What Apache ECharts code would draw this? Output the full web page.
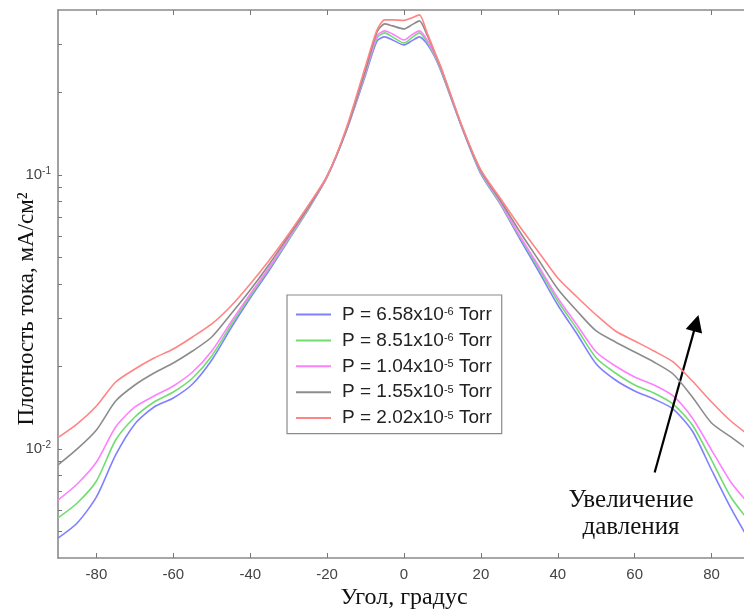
<!DOCTYPE html>
<html>
<head>
<meta charset="utf-8">
<script src="https://cdn.jsdelivr.net/npm/echarts@6/dist/echarts.min.js"></script>
<style>
  html, body { margin: 0; padding: 0; background: #ffffff; }
  #chart { width: 744px; height: 609px; }
</style>
</head>
<body>
<div id="chart"></div>
<script>
// Angular distribution of the ion current density for five chamber pressures
const angles = [-90, -85, -80, -75, -70, -65, -60, -55, -50, -45, -40, -35, -30, -25, -20, -15, -10,
  -7, -5, -3, 0, 2, 4, 6, 8,
  10, 15, 20, 25, 30, 35, 40, 45, 50, 55, 60, 65, 70, 75, 80, 85, 90];

// current density, mA/cm^2
const p658e6 = [0.00473, 0.00537, 0.00668, 0.00951, 0.01234, 0.01423, 0.01535, 0.01726, 0.02112, 0.02764,
  0.03557, 0.0450, 0.0579, 0.07451, 0.09833, 0.1448, 0.2318,
  0.3085, 0.3191, 0.3111, 0.2983, 0.3085, 0.3191, 0.3008, 0.2697,
  0.2318, 0.1497, 0.1008, 0.0784, 0.05889, 0.04462, 0.03353, 0.02628, 0.02042, 0.01785, 0.01628,
  0.01522, 0.01399, 0.01163, 0.00838, 0.00609, 0.00458];
const p851e6 = [0.0056, 0.00635, 0.00764, 0.01078, 0.01308, 0.01484, 0.01614, 0.01816, 0.02185, 0.02835,
  0.03617, 0.04576, 0.0584, 0.07451, 0.09833, 0.146, 0.2357,
  0.3164, 0.330, 0.3191, 0.3034, 0.3164, 0.330, 0.3059, 0.272,
  0.2338, 0.151, 0.1017, 0.079, 0.05989, 0.04576, 0.03468, 0.02741, 0.02148, 0.01893, 0.01712,
  0.01601, 0.01459, 0.01223, 0.00911, 0.00668, 0.00541];
const p104e5 = [0.00651, 0.00745, 0.00896, 0.01203, 0.01423, 0.01561, 0.01698, 0.01909, 0.02278, 0.02907,
  0.03678, 0.04614, 0.05889, 0.07514, 0.09833, 0.146, 0.2377,
  0.3218, 0.3356, 0.3272, 0.3111, 0.3245, 0.3356, 0.3111, 0.2742,
  0.2357, 0.151, 0.1026, 0.0797, 0.06039, 0.04654, 0.03557, 0.02835, 0.02259, 0.02008, 0.01831,
  0.01712, 0.01561, 0.01297, 0.00991, 0.00758, 0.00624];
const p155e5 = [0.00874, 0.0100, 0.01173, 0.01496, 0.01712, 0.01893, 0.0206, 0.02278, 0.02563, 0.03109,
  0.03804, 0.04733, 0.05989, 0.07578, 0.09917, 0.146, 0.2417,
  0.3327, 0.3559, 0.350, 0.3413, 0.3529, 0.365, 0.3245, 0.2789,
  0.2377, 0.151, 0.1034, 0.081, 0.06246, 0.04894, 0.03836, 0.03189, 0.02695, 0.02457, 0.02259,
  0.02077, 0.01878, 0.01548, 0.01244, 0.01106, 0.00983];
const p202e5 = [0.0110, 0.01234, 0.01435, 0.01755, 0.01958, 0.02148, 0.02317, 0.02563, 0.02859, 0.03326,
  0.0400, 0.04894, 0.0609, 0.07707, 0.09917, 0.1485, 0.250,
  0.3384, 0.3681, 0.3681, 0.3665, 0.3743, 0.3839, 0.330, 0.2812,
  0.2397, 0.1522, 0.1043, 0.08242, 0.06514, 0.05234, 0.04207, 0.03587, 0.03083, 0.02695, 0.02478,
  0.02278, 0.02077, 0.0177, 0.01484, 0.01265, 0.01115];

const seriesNames = ['P = 6.58x10^-6 Torr', 'P = 8.51x10^-6 Torr', 'P = 1.04x10^-5 Torr',
  'P = 1.55x10^-5 Torr', 'P = 2.02x10^-5 Torr'];
const seriesValues = [p658e6, p851e6, p104e5, p155e5, p202e5];
const lineColors = ['#8080ff', '#70dd70', '#ff80ff', '#8c8c8c', '#ff8585'];

// axis ticks
const xTicks = [-80, -60, -40, -20, 0, 20, 40, 60, 80];
const yLabelTicks = [0.01, 0.1];
const yTicks = [0.005, 0.006, 0.007, 0.008, 0.009, 0.01, 0.02, 0.03, 0.04, 0.05, 0.06, 0.07, 0.08, 0.09,
  0.1, 0.2, 0.3];

// annotation arrow (angle, current density)
const arrowFrom = [65.2, 0.0082];
const arrowTo = [76.0, 0.0288];
const arrowText = ['Увеличение', 'давления'];

const axisGrey = '#8a8a8a';
const tickFont = 'Liberation Sans, Arial, sans-serif';
const serifFont = 'Liberation Serif, Times New Roman, serif';

const chart = echarts.init(document.getElementById('chart'), null, { renderer: 'canvas' });

const series = seriesValues.map((vals, i) => {
  const s = {
    name: seriesNames[i],
    type: 'line',
    data: angles.map((a, k) => [a, vals[k]]),
    symbol: 'none',
    showSymbol: false,
    smooth: 0.25,
    lineStyle: { color: lineColors[i], width: 1.6 },
    itemStyle: { color: lineColors[i] },
    emphasis: { disabled: true },
    z: 2 + i
  };
  if (i === seriesValues.length - 1) {
    s.markLine = {
      silent: true,
      symbol: ['none', 'triangle'],
      symbolSize: 17,
      label: { show: false },
      emphasis: { disabled: true },
      lineStyle: { color: '#000000', width: 2.2, type: 'solid' },
      itemStyle: { color: '#000000' },
      data: [[{ coord: arrowFrom }, { coord: arrowTo }]]
    };
  }
  return s;
});

const option = {
  backgroundColor: '#ffffff',
  animation: false,
  grid: { left: 58, top: 10, width: 692, height: 548, containLabel: false, outerBoundsMode: 'none' },
  legend: {
    orient: 'vertical',
    left: 287,
    top: 295,
    padding: [10, 10, 6, 9],
    itemGap: 6.9,
    itemWidth: 35,
    itemHeight: 2,
    icon: 'rect',
    borderColor: '#8a8a8a',
    borderWidth: 1.2,
    backgroundColor: '#ffffff',
    selectedMode: false,
    data: seriesNames,
    formatter: name => name.replace(/\^(-?\d+)/, '{sup|$1}'),
    textStyle: {
      fontFamily: tickFont,
      fontSize: 19,
      lineHeight: 16,
      color: '#222222',
      padding: [0, 0, 0, 6],
      rich: {
        sup: { fontFamily: tickFont, fontSize: 11, color: '#222222', lineHeight: 8, verticalAlign: 'top' }
      }
    }
  },
  xAxis: [{
    type: 'value',
    min: -90,
    max: 90,
    position: 'bottom',
    name: 'Угол, градус',
    nameLocation: 'middle',
    nameGap: 28,
    nameMoveOverlap: false,
    nameTextStyle: { fontFamily: serifFont, fontSize: 24, color: '#111111' },
    axisLine: { show: true, onZero: false, lineStyle: { color: axisGrey, width: 1.6 } },
    axisTick: { show: true, inside: true, length: 5, customValues: xTicks, lineStyle: { color: '#777777' } },
    axisLabel: { customValues: xTicks, margin: 9, fontFamily: tickFont, fontSize: 15, color: '#444444' },
    splitLine: { show: false }
  }, {
    type: 'value',
    min: -90,
    max: 90,
    position: 'top',
    axisLine: { show: true, onZero: false, lineStyle: { color: axisGrey, width: 1.6 } },
    axisTick: { show: true, inside: true, length: 5, customValues: xTicks, lineStyle: { color: '#777777' } },
    axisLabel: { show: false },
    splitLine: { show: false }
  }],
  yAxis: [{
    type: 'log',
    logBase: 10,
    min: 0.004,
    max: 0.4,
    position: 'left',
    name: 'Плотность тока, мА/см²',
    nameLocation: 'middle',
    nameGap: 20,
    nameMoveOverlap: false,
    nameTextStyle: { fontFamily: serifFont, fontSize: 23, color: '#111111', padding: [0, 50, 0, 0] },
    axisLine: { show: true, onZero: false, lineStyle: { color: axisGrey, width: 1.6 } },
    axisTick: { show: true, inside: true, length: 4, customValues: yTicks, lineStyle: { color: '#777777' } },
    axisLabel: {
      customValues: yLabelTicks,
      margin: 7,
      formatter: v => '{b|10}{s|' + Math.round(Math.log10(v)) + '}',
      rich: {
        b: { fontFamily: tickFont, fontSize: 15, color: '#444444', lineHeight: 18, verticalAlign: 'middle' },
        s: { fontFamily: tickFont, fontSize: 10, color: '#444444', lineHeight: 10, verticalAlign: 'top' }
      }
    },
    splitLine: { show: false }
  }],
  graphic: [{
    type: 'text',
    x: 631,
    y: 500,
    style: { text: arrowText[0], font: '25px ' + serifFont, fill: '#111111', align: 'center', verticalAlign: 'middle' }
  }, {
    type: 'text',
    x: 631,
    y: 527,
    style: { text: arrowText[1], font: '25px ' + serifFont, fill: '#111111', align: 'center', verticalAlign: 'middle' }
  }],
  series: series
};

chart.setOption(option);
</script>
</body>
</html>
